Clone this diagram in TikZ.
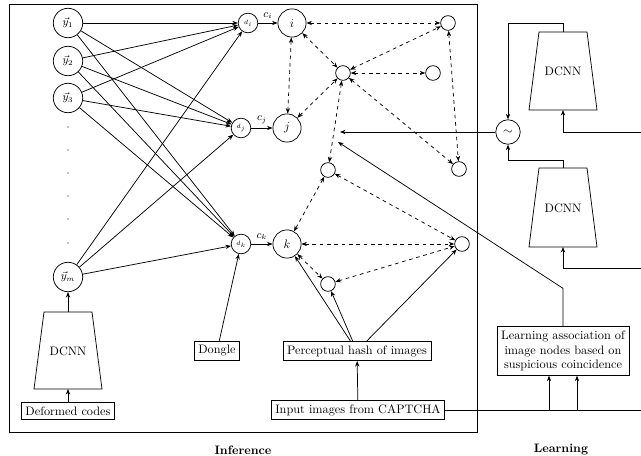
\documentclass[tikz,border=0pt]{standalone}
\usepackage{amsmath}
\usepackage{amssymb}
\usetikzlibrary{arrows.meta}

\begin{document}
\begin{tikzpicture}[x=0.816pt,y=-0.816pt,semithick,
        >={Stealth[length=4.5pt,width=3.5pt]},
        unit/.style={circle,draw,minimum size=24pt,inner sep=0pt,font=\small},
        dnode/.style={circle,draw,minimum size=16pt,inner sep=0pt,font=\tiny},
        img/.style={circle,draw,minimum size=23pt,inner sep=0pt},
        hid/.style={circle,draw,minimum size=12pt,inner sep=0pt},
        box/.style={draw,rectangle},
        assoc/.style={<->,dashed}]
        \useasboundingbox (0,0) rectangle (641,456);

        \draw (9,4) rectangle (477,432);

        % trapezoid corners of the three networks
        \coordinate (dcnnLtop) at (68,312);
        \coordinate (dcnnLbot) at (68,389);
        \coordinate (dcnnAtop) at (563,32);
        \coordinate (dcnnAbot) at (563,110);
        \coordinate (dcnnBtop) at (563,168);
        \coordinate (dcnnBbot) at (563,247);
        \draw (44,312) -- (92,312) -- (102,389) -- (34,389) -- cycle;
        \draw (539,32) -- (587,32) -- (597,110) -- (529,110) -- cycle;
        \draw (539,168) -- (587,168) -- (597,247) -- (529,247) -- cycle;
        \node (dcnnL) at (68,351) {DCNN};
        \node (dcnnA) at (563,71)  {DCNN};
        \node (dcnnB) at (563,208) {DCNN};

        \node[unit] (y1) at (68,23)  {$\vec{y}_1$};
        \node[unit] (y2) at (68,61)  {$\vec{y}_2$};
        \node[unit] (y3) at (68,98)  {$\vec{y}_3$};
        \node[unit] (ym) at (68,277) {$\vec{y}_m$};
        \foreach \h in {127,150,173,196,219,243}
            \fill (68,\h) circle (0.5pt);

        \node[box] (codes) at (68,411) {Deformed codes};

        \node[dnode] (di) at (248,23)  {$d_i$};
        \node[dnode] (dj) at (241,128) {$d_j$};
        \node[dnode] (dk) at (241,244) {$d_k$};
        \node[img]   (i)  at (292,23)  {$i$};
        \node[img]   (j)  at (287,128) {$j$};
        \node[img]   (k)  at (287,244) {$k$};

        \node[hid] (h1) at (343,73)  {};
        \node[hid] (h2) at (448,23)  {};
        \node[hid] (h3) at (433,73)  {};
        \node[hid] (h4) at (459,169) {};
        \node[hid] (h5) at (328,170) {};
        \node[hid] (h6) at (462,244) {};
        \node[hid] (h7) at (328,284) {};

        \node[box] (dongle) at (217,351) {Dongle};
        \node[box] (hash)   at (357,351) {Perceptual hash of images};
        \node[box] (input)  at (358,410) {Input images from CAPTCHA};

        \node[box,align=center] (learn) at (563,351) {Learning association of\\ image nodes based on\\ suspicious coincidence};
        \node[circle,draw,minimum size=20pt,inner sep=0pt] (sim) at (508,132) {$\sim$};

        \node[font=\bfseries] (inf) at (243,450) {Inference};
        \node[font=\bfseries] (lrn) at (561,450) {Learning};

        \coordinate (inA)    at (641,132);
        \coordinate (inB)    at (641,268);
        \coordinate (outR)   at (641,410);
        \coordinate (simEnd) at (340,132);
        \coordinate (lrnEnd) at (338,142);
        \coordinate (tap1)   at (549,410);
        \coordinate (tap2)   at (577,410);

        \draw[->] (codes) -- (dcnnLbot);
        \draw[->] (dcnnLtop) -- (ym);

        \draw[->] (y1) -- (di);
        \draw[->] (y1) -- (dj);
        \draw[->] (y1) -- (dk);
        \draw[->] (y2) -- (di);
        \draw[->] (y2) -- (dj);
        \draw[->] (y2) -- (dk);
        \draw[->] (y3) -- (di);
        \draw[->] (y3) -- (dj);
        \draw[->] (y3) -- (dk);
        \draw[->] (ym) -- (di);
        \draw[->] (ym) -- (dj);
        \draw[->] (ym) -- (dk);

        \draw[->] (di) -- node[above,font=\small] {$c_i$} (i);
        \draw[->] (dj) -- node[above,font=\small] {$c_j$} (j);
        \draw[->] (dk) -- node[above,font=\small] {$c_k$} (k);

        \draw[->] (dongle) -- (dk);
        \draw[->] (hash) -- (k);
        \draw[->] (hash) -- (h7);
        \draw[->] (hash) -- (h6);
        \draw[->] (input) -- (hash);

        \draw[assoc] (i) -- (h2);
        \draw[assoc] (i) -- (h1);
        \draw[assoc] (i) -- (j);
        \draw[assoc] (j) -- (h1);
        \draw[assoc] (h1) -- (h2);
        \draw[assoc] (h1) -- (h3);
        \draw[assoc] (h1) -- (h5);
        \draw[assoc] (h1) -- (h4);
        \draw[assoc] (h2) -- (h4);
        \draw[assoc] (h5) -- (k);
        \draw[assoc] (h5) -- (h6);
        \draw[assoc] (k) -- (h6);
        \draw[assoc] (k) -- (h7);
        \draw[assoc] (h7) -- (h6);

        \draw[->] (sim) -- (simEnd);
        \draw[->] (learn.north) -- ++(0,-38) -- (lrnEnd);
        \draw[->] (dcnnAtop) -- ++(0,-9) -| (sim);
        \draw[->] (inA) -| (dcnnAbot);
        \draw[->] (dcnnBtop) -- ++(0,-8) -| (sim);
        \draw[->] (inB) -| (dcnnBbot);
        \draw (input) -- (outR);
        \draw[->] (tap1) -- (tap1 |- learn.south);
        \draw[->] (tap2) -- (tap2 |- learn.south);
\end{tikzpicture}
\end{document}
